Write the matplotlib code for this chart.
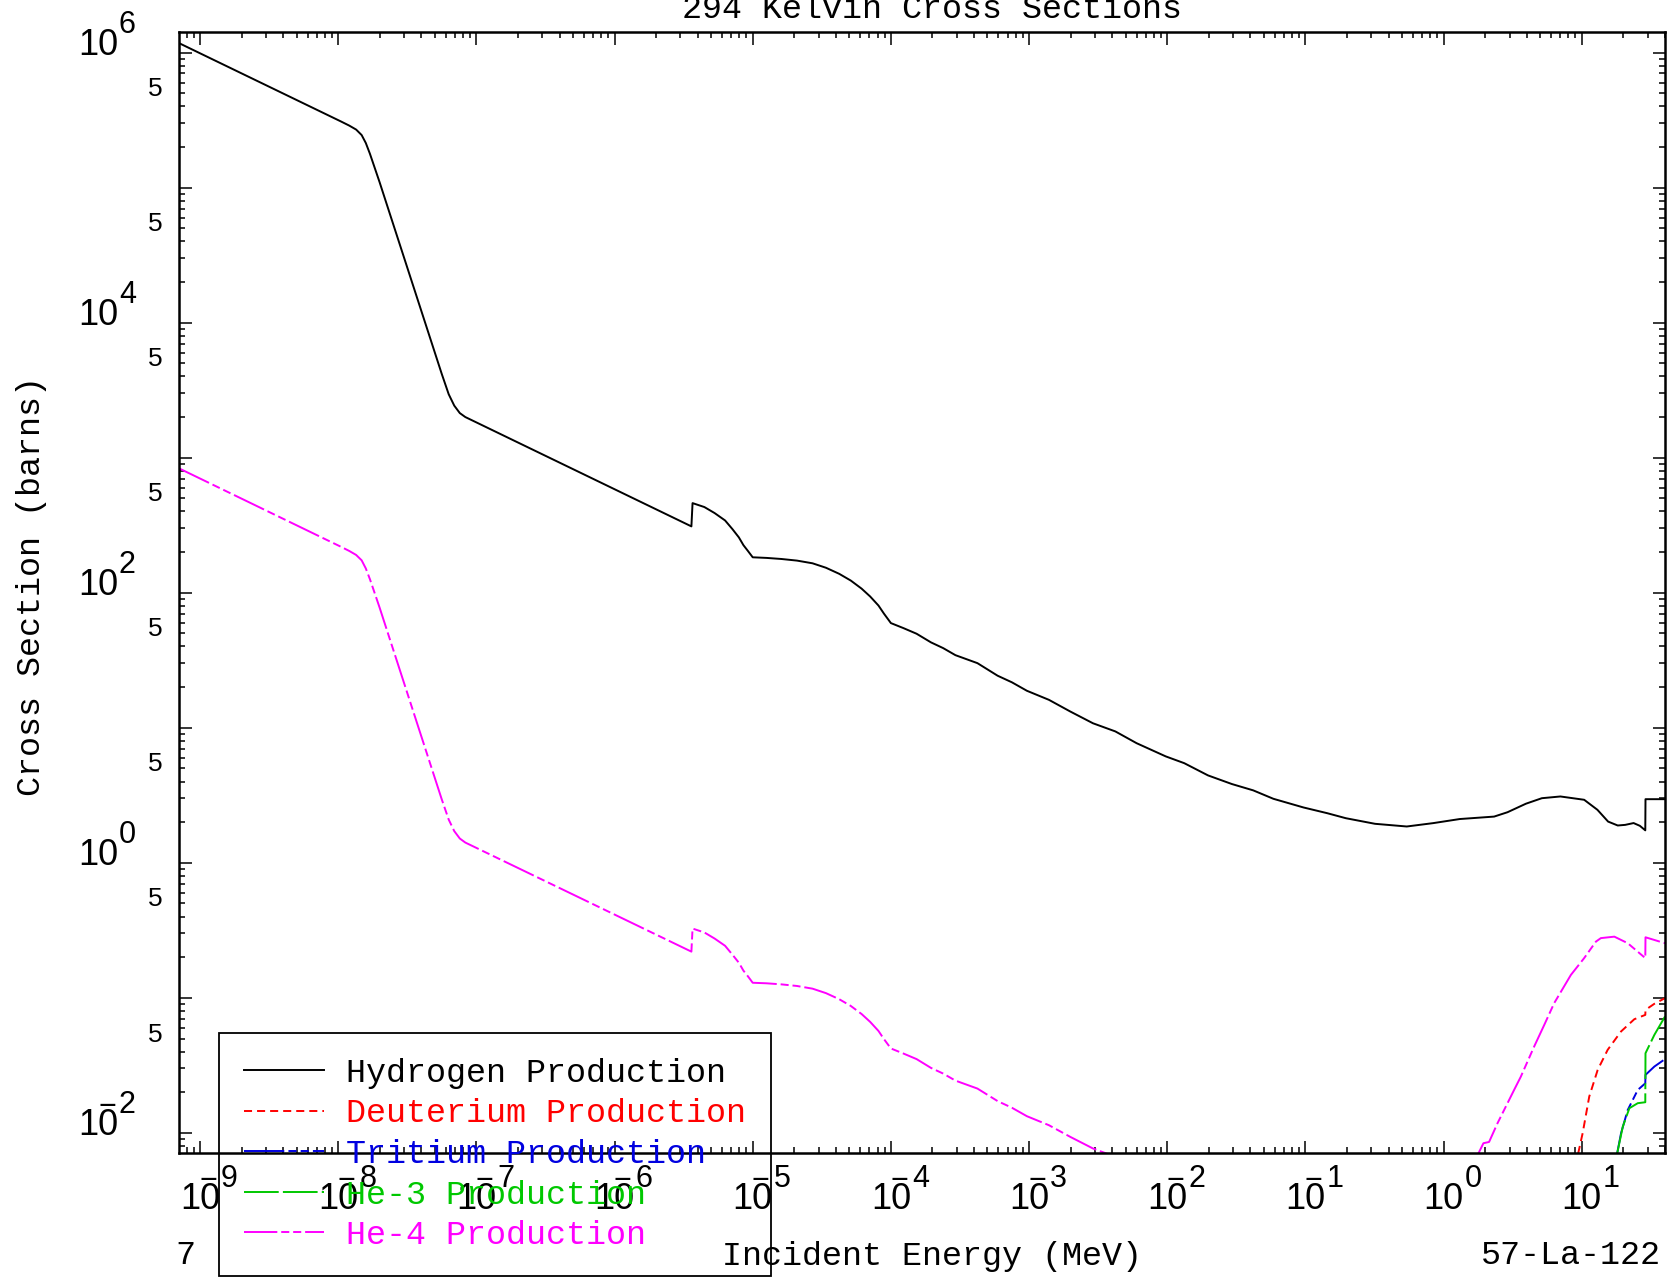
import numpy as np
import matplotlib
matplotlib.use("Agg")
import matplotlib.pyplot as plt
from matplotlib.ticker import LogLocator, NullFormatter
from matplotlib.transforms import offset_copy

plt.rcParams['lines.scale_dashes'] = False

# ---- data (energy in MeV, cross section in barns) ----
h_energy = [7.05e-10, 1.047e-8, 1.202e-8, 1.349e-8, 1.479e-8, 1.585e-8, 1.698e-8, 1.82e-8, 1.995e-8,
            5.62e-8, 6.31e-8, 6.92e-8, 7.59e-8, 8.32e-8,
            3.6e-6, 3.67e-6, 4.47e-6, 5.3e-6, 6.31e-6, 7.13e-6, 7.94e-6, 8.57e-6, 9.23e-6, 1.0e-5,
            1.259e-5, 1.614e-5, 2.089e-5, 2.71e-5, 3.39e-5, 4.23e-5, 5.13e-5, 6.14e-5, 7.08e-5,
            8.13e-5, 8.91e-5, 1.0e-4, 1.233e-4, 1.535e-4, 1.95e-4, 2.39e-4, 2.93e-4, 4.23e-4, 5.92e-4,
            7.52e-4, 9.64e-4, 1.393e-3, 1.986e-3, 2.9e-3, 4.21e-3, 6.0e-3, 9.75e-3, 1.327e-2,
            1.972e-2, 2.94e-2, 4.19e-2, 5.86e-2, 9.68e-2, 0.144, 0.196, 0.319, 0.541, 0.841,
            1.309, 2.32, 2.90, 3.94, 5.14, 7.0, 10.4, 12.97, 15.5, 18.2, 20.6, 23.7, 26.3,
            28.8, 28.9, 40.0]
h_xs = [1.175e6, 3.09e5, 2.88e5, 2.69e5, 2.45e5, 2.14e5, 1.78e5, 1.445e5, 1.096e5,
        4.17e3, 2.95e3, 2.43e3, 2.14e3, 2.0e3,
        310, 461, 431, 389, 343, 296, 257, 225, 204, 183,
        181.1, 177.8, 173.0, 165.2, 153.1, 138.0, 123.0, 107.2, 93.8,
        80.4, 70.0, 59.6, 54.7, 49.7, 42.9, 38.9, 34.5, 30.1, 24.3,
        21.7, 18.8, 16.1, 13.2, 10.8, 9.40, 7.69, 6.14, 5.47,
        4.44, 3.83, 3.44, 2.98, 2.57, 2.33, 2.14, 1.945, 1.858, 1.968,
        2.11, 2.20, 2.37, 2.74, 3.01, 3.10, 2.93, 2.47, 2.02, 1.89, 1.91, 1.97, 1.88,
        1.74, 2.96, 2.96]

d_energy = [9.4, 10.14, 11.32, 13.03, 15.38, 19.23, 23.99, 28.8, 28.9, 33.5, 40.0]
d_xs = [7.0e-3, 9.95e-3, 0.01858, 0.0293, 0.0412, 0.0564, 0.0695, 0.0748, 0.0815, 0.0904, 0.0995]

t_energy = [18.0, 19.23, 21.5, 25.4, 28.8, 28.9, 33.5, 40.0]
t_xs = [7.0e-3, 9.95e-3, 0.0148, 0.0208, 0.0233, 0.0269, 0.031, 0.0352]

he3_energy = [18.0, 19.8, 22.1, 25.4, 28.8, 28.9, 33.5, 40.0]
he3_xs = [7.0e-3, 0.01114, 0.01524, 0.0166, 0.01687, 0.0389, 0.0532, 0.0728]

he4_energy = [7.05e-10, 1.047e-8, 1.202e-8, 1.349e-8, 1.479e-8, 1.585e-8, 1.698e-8, 1.82e-8, 1.995e-8,
              5.62e-8, 6.31e-8, 6.92e-8, 7.59e-8, 8.32e-8,
              3.6e-6, 3.67e-6, 4.47e-6, 5.3e-6, 6.31e-6, 7.13e-6, 7.94e-6, 8.57e-6, 9.23e-6, 1.0e-5,
              1.259e-5, 1.614e-5, 2.089e-5, 2.71e-5, 3.39e-5, 4.23e-5, 5.13e-5, 6.14e-5, 7.08e-5,
              8.13e-5, 8.91e-5, 1.0e-4, 1.233e-4, 1.535e-4, 1.95e-4, 2.39e-4, 2.93e-4, 4.23e-4, 5.92e-4,
              7.52e-4, 9.64e-4, 1.393e-3, 1.986e-3, 2.9e-3, 4.21e-3, np.nan,
              1.78, 1.941, 2.133, 2.455, 3.236, 3.62, 4.52, 5.35, 6.31, 8.34, 10.4, 12.65, 13.74,
              17.2, 21.5, 28.8, 28.9, 40.0]
he4_xs = [834, 219, 204, 190.5, 173.8, 151.4, 125.9, 102.3, 77.6,
          2.95, 2.09, 1.718, 1.514, 1.413,
          0.22, 0.326, 0.305, 0.275, 0.243, 0.209, 0.182, 0.159, 0.1445, 0.1294,
          0.1282, 0.1259, 0.1225, 0.117, 0.1084, 0.0977, 0.0871, 0.0759, 0.0664,
          0.0569, 0.0495, 0.0422, 0.0387, 0.0352, 0.0303, 0.0275, 0.0244, 0.0213, 0.0172,
          0.01535, 0.0133, 0.0114, 0.00935, 0.00767, 0.00665, np.nan,
          7.0e-3, 8.39e-3, 8.57e-3, 0.0118, 0.0208, 0.0261, 0.0436, 0.0631, 0.0914, 0.148, 0.197,
          0.261, 0.277, 0.284, 0.254, 0.197, 0.281, 0.254]

x_decades = list(range(-9, 2))
y_decades = list(range(-2, 7, 2))
y_fives = list(range(-2, 6))

MONO = ['Liberation Mono', 'DejaVu Sans Mono']
SANS = ['Liberation Sans', 'DejaVu Sans']
W, H = 1680, 1283

fig = plt.figure(figsize=(W / 100, H / 100), dpi=100)
ax = fig.add_axes([179 / W, 1 - 1153 / H, (1665 - 179) / W, (1153 - 32) / H])
ax.set_xscale('log')
ax.set_yscale('log')
ax.set_xlim(7.05e-10, 40.0)
ax.set_ylim(7.1e-3, 1.42e6)

lw = 1.4
ax.plot(h_energy, h_xs, color='black', lw=lw, label='Hydrogen Production')
ax.plot(d_energy, d_xs, color='red', lw=lw, ls=(0, (5.8, 3.6)), label='Deuterium Production')
ax.plot(t_energy, t_xs, color='#0000e0', lw=lw, ls=(0, (29, 3.0, 5.8, 3.0, 5.8, 3.0)),
        label='Tritium Production')
ax.plot(he3_energy, he3_xs, color='#00c800', lw=lw, ls=(0, (25, 3.0, 25, 3.0, 4.3, 3.0)),
        label='He-3 Production')
ax.plot(he4_energy, he4_xs, color='#ff00ff', lw=lw, ls=(0, (24, 2.8, 5.8, 2.8, 5.8, 2.8)),
        label='He-4 Production')

# ticks
for axis in (ax.xaxis, ax.yaxis):
    axis.set_major_locator(LogLocator(base=10, numticks=100))
    axis.set_minor_locator(LogLocator(base=10, subs=np.arange(2, 10), numticks=100))
    axis.set_minor_formatter(NullFormatter())
ax.tick_params(which='both', direction='in', top=True, right=True,
               labelbottom=False, labelleft=False, width=1.1, color='black')
ax.tick_params(which='major', length=9)
ax.tick_params(which='minor', length=4.5)
for sp in ax.spines.values():
    sp.set_linewidth(1.8)

# custom tick labels
xt = ax.get_xaxis_transform()
yt = ax.get_yaxis_transform()
for d in x_decades:
    v = 10.0 ** d
    ax.text(v, 0, '10', transform=offset_copy(xt, fig, x=0, y=-56, units='dots'),
            ha='center', va='baseline', fontsize=26, family=SANS, clip_on=False)
    ax.text(v, 0, str(abs(d)), transform=offset_copy(xt, fig, x=21, y=-34, units='dots'),
            ha='left', va='baseline', fontsize=22, family=SANS, clip_on=False)
    if d < 0:
        ax.text(v, 0, '\u2212', transform=offset_copy(xt, fig, x=17, y=-36, units='dots'),
                ha='right', va='baseline', fontsize=22, family=SANS, clip_on=False)

for d in y_decades:
    v = 10.0 ** d
    ax.text(0, v, '10', transform=offset_copy(yt, fig, x=-61, y=-2, units='dots'),
            ha='right', va='baseline', fontsize=26, family=SANS, clip_on=False)
    ax.text(0, v, str(abs(d)), transform=offset_copy(yt, fig, x=-60, y=20, units='dots'),
            ha='left', va='baseline', fontsize=22, family=SANS, clip_on=False)
    if d < 0:
        ax.text(0, v, '\u2212', transform=offset_copy(yt, fig, x=-63, y=18, units='dots'),
                ha='right', va='baseline', fontsize=22, family=SANS, clip_on=False)

for d in y_fives:
    v = 5 * 10.0 ** d
    ax.text(0, v, '5', transform=offset_copy(yt, fig, x=-24, y=4, units='dots'),
            ha='center', va='center', fontsize=19, family=SANS, clip_on=False)

# titles and labels
fig.text(932 / W, 1 - 18 / H, '294 Kelvin Cross Sections', ha='center', va='baseline',
         fontsize=24, family=MONO)
fig.text(932 / W, 1 - 1256 / H, 'Incident Energy (MeV)', ha='center', va='center',
         fontsize=24, family=MONO)
fig.text(1661 / W, 1 - 1256 / H, '57-La-122', ha='right', va='center',
         fontsize=24, family=MONO)
fig.text(185 / W, 1 - 1256 / H, '7', ha='center', va='center', fontsize=24, family=MONO)
fig.text(32 / W, 1 - 586 / H, 'Cross Section (barns)', ha='center', va='center',
         rotation=90, fontsize=24, family=MONO)

leg = fig.legend(loc='upper left', bbox_to_anchor=(219 / W, 1 - 1033 / H),
                 bbox_transform=fig.transFigure, borderaxespad=0, fancybox=False,
                 framealpha=1, facecolor='none', edgecolor='black',
                 prop={'family': MONO, 'size': 24}, labelcolor='linecolor',
                 handlelength=2.4, handletextpad=0.66, borderpad=0.75, labelspacing=0.285)
leg.get_frame().set_linewidth(1.3)

fig.savefig('out.png', dpi=100)
